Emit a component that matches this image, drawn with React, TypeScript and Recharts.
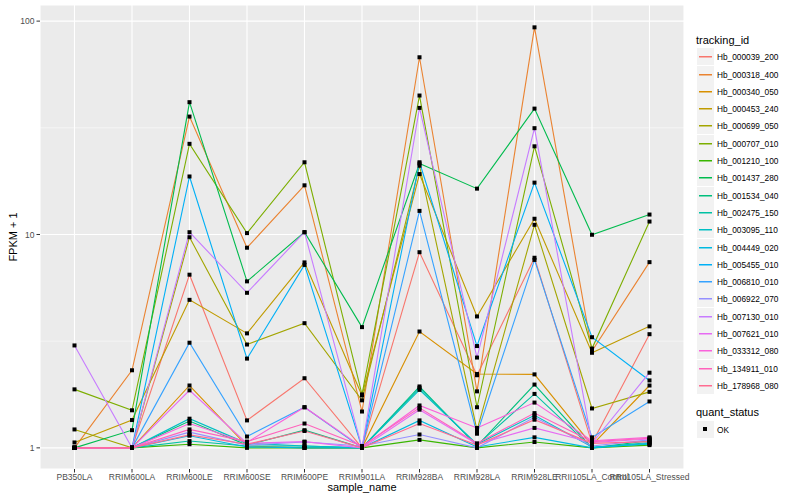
import React from 'react';
import { LineChart, Line, XAxis, YAxis, CartesianGrid } from 'recharts';

const categories = [
  'PB350LA', 'RRIM600LA', 'RRIM600LE', 'RRIM600SE', 'RRIM600PE', 'RRIM901LA',
  'RRIM928BA', 'RRIM928LA', 'RRIM928LE', 'RRII105LA_Control', 'RRII105LA_Stressed',
];

const trackingIds = [
  'Hb_000039_200', 'Hb_000318_400', 'Hb_000340_050', 'Hb_000453_240', 'Hb_000699_050',
  'Hb_000707_010', 'Hb_001210_100', 'Hb_001437_280', 'Hb_001534_040', 'Hb_002475_150',
  'Hb_003095_110', 'Hb_004449_020', 'Hb_005455_010', 'Hb_006810_010', 'Hb_006922_070',
  'Hb_007130_010', 'Hb_007621_010', 'Hb_033312_080', 'Hb_134911_010', 'Hb_178968_080',
];

// ggplot hue palette, 20 levels
const COLORS = [
  '#F8766D', '#EA8331', '#D89000', '#C09B00', '#A3A500', '#7CAE00', '#39B600', '#00BB4E',
  '#00BF7D', '#00C1A3', '#00BFC4', '#00BAE0', '#00B0F6', '#35A2FF', '#9590FF', '#C77CFF',
  '#E76BF3', '#FA62DB', '#FF62BC', '#FF6C91',
];

// FPKM + 1 per sample
const hb000039 = [1.0, 1.0, 6.48, 1.345, 2.12, 1.0, 8.26, 2.19, 7.78, 1.05, 3.41];
const hb000318 = [1.0, 2.31, 35.7, 8.67, 17.0, 1.48, 67.7, 1.84, 93.5, 2.84, 7.42];
const hb000340 = [1.0, 1.0, 1.96, 1.02, 1.0, 1.0, 3.51, 2.22, 2.21, 1.03, 1.96];
const hb000453 = [1.06, 1.35, 4.94, 3.44, 7.4, 1.76, 19.2, 4.13, 11.85, 2.79, 3.71];
const hb000699 = [1.22, 1.0, 9.71, 3.05, 3.84, 1.67, 21.0, 1.21, 11.1, 1.53, 1.83];
const hb000707 = [1.88, 1.5, 26.6, 10.15, 21.8, 1.78, 44.8, 1.55, 25.9, 2.92, 11.5];
const hb001210 = [1.0, 1.0, 1.04, 1.0, 1.0, 1.0, 1.09, 1.0, 1.065, 1.0, 1.03];
const hb001437 = [1.0, 1.21, 41.7, 6.03, 10.25, 3.68, 21.5, 16.4, 38.9, 9.97, 12.4];
const hb001534 = [1.0, 1.0, 1.335, 1.03, 1.21, 1.0, 1.94, 1.02, 1.98, 1.0, 1.08];
const hb002475 = [1.0, 1.0, 1.076, 1.02, 1.02, 1.0, 1.91, 1.03, 1.79, 1.0, 1.06];
const hb003095 = [1.0, 1.0, 1.37, 1.05, 1.02, 1.0, 1.87, 1.04, 1.42, 1.01, 1.04];
const hb004449 = [1.0, 1.0, 1.14, 1.01, 1.0, 1.0, 1.345, 1.01, 1.12, 1.0, 1.05];
const hb005455 = [1.0, 1.0, 18.7, 2.62, 7.2, 1.0, 21.8, 3.0, 17.5, 3.3, 2.07];
const hb006810 = [1.0, 1.0, 3.11, 1.13, 1.55, 1.0, 12.9, 1.165, 7.6, 1.12, 1.65];
const hb006922 = [1.0, 1.0, 1.185, 1.03, 1.065, 1.02, 1.155, 1.0, 1.39, 1.02, 1.09];
const hb007130 = [3.02, 1.0, 10.25, 5.33, 10.25, 1.0, 39.2, 2.65, 31.5, 1.05, 2.25];
const hb007621 = [1.0, 1.0, 1.86, 1.05, 1.07, 1.0, 1.51, 1.04, 1.24, 1.06, 1.1];
const hb033312 = [1.0, 1.0, 1.3, 1.06, 1.55, 1.01, 1.58, 1.24, 1.63, 1.08, 1.12];
const hb134911 = [1.0, 1.0, 1.22, 1.07, 1.3, 1.02, 1.54, 1.05, 1.455, 1.07, 1.11];
const hb178968 = [1.0, 1.0, 1.15, 1.04, 1.2, 1.0, 1.3, 1.03, 1.355, 1.05, 1.07];

const seriesValues = [
  hb000039, hb000318, hb000340, hb000453, hb000699, hb000707, hb001210, hb001437, hb001534, hb002475,
  hb003095, hb004449, hb005455, hb006810, hb006922, hb007130, hb007621, hb033312, hb134911, hb178968,
];

const yTicks = [1, 10, 100];
const yMinorTicks = [3.1623, 31.623];

const data = categories.map((sample, i) => {
  const row: Record<string, any> = { x: i + 1, sample };
  trackingIds.forEach((id, k) => {
    row[id] = seriesValues[k][i];
  });
  return row;
});

const FONT = '"Liberation Sans", Arial, sans-serif';

const SquareDot: React.FC<any> = ({ cx, cy }) => {
  if (cx == null || cy == null) return null;
  return <rect x={cx - 2} y={cy - 2} width={4} height={4} fill="#000" />;
};

// legend rows are placed on whole pixels so the key lines stay crisp
const LegendKey: React.FC<{ top: number; label: string; children: React.ReactNode }> = ({ top, label, children }) => (
  <div style={{ position: 'absolute', left: 697, top, height: 17, display: 'flex', alignItems: 'center' }}>
    <svg width={17} height={17} style={{ display: 'block' }}>
      <rect x={0} y={0} width={17} height={17} fill="#F2F2F2" />
      {children}
    </svg>
    <span style={{ fontSize: 8.3, marginLeft: 3, whiteSpace: 'nowrap', fontFamily: FONT, color: '#000' }}>{label}</span>
  </div>
);

const LegendPanel = () => (
  <>
    <div style={{ position: 'absolute', left: 696, top: 33, fontFamily: FONT, fontSize: 11, lineHeight: '14px', color: '#000' }}>
      tracking_id
    </div>
    {trackingIds.map((id, i) => (
      <LegendKey key={id} top={Math.round(48.2 + 17.3 * i)} label={id}>
        <rect x={2} y={8} width={13} height={1.5} fill={COLORS[i]} />
      </LegendKey>
    ))}
    <div style={{ position: 'absolute', left: 696, top: 405, fontFamily: FONT, fontSize: 11, lineHeight: '14px', color: '#000' }}>
      quant_status
    </div>
    <LegendKey top={421} label="OK">
      <rect x={6} y={6} width={4} height={4} fill="#000" />
    </LegendKey>
  </>
);

const App: React.FC = () => {
  const tickStyle = { fontSize: 8.5, fill: '#4D4D4D', fontFamily: FONT };
  return (
    <div style={{ position: 'absolute', left: 0, top: 0, width: 800, height: 500, background: '#fff' }}>
      <LineChart width={800} height={500} data={data} margin={{ top: 5, right: 116, bottom: 1, left: 0 }}>
        <CartesianGrid fill="#EBEBEB" stroke="#fff" strokeWidth={1.1} />
        <CartesianGrid
          stroke="#fff"
          strokeWidth={0.5}
          vertical={false}
          horizontalValues={yMinorTicks}
        />
        <XAxis
          dataKey="x"
          type="number"
          domain={[0.4, 11.6]}
          ticks={categories.map((_, i) => i + 1)}
          tickFormatter={(v: number) => categories[v - 1]}
          interval={0}
          height={30}
          axisLine={false}
          tickSize={3.5}
          tickMargin={1}
          tickLine={{ stroke: '#333333' }}
          tick={tickStyle}
        />
        <YAxis
          type="number"
          scale="log"
          domain={[0.796, 119]}
          allowDataOverflow
          ticks={yTicks}
          width={40}
          axisLine={false}
          tickSize={3.5}
          tickMargin={2}
          tickLine={{ stroke: '#333333' }}
          tick={tickStyle}
        />
        {trackingIds.map((id, k) => (
          <Line
            key={id}
            dataKey={id}
            type="linear"
            stroke={COLORS[k]}
            strokeWidth={1.1}
            dot={false}
            activeDot={false}
            isAnimationActive={false}
          />
        ))}
        {trackingIds.map((id) => (
          <Line
            key={`pt-${id}`}
            dataKey={id}
            type="linear"
            stroke="none"
            dot={<SquareDot />}
            activeDot={false}
            legendType="none"
            isAnimationActive={false}
          />
        ))}
      </LineChart>
      <div
        style={{
          position: 'absolute', left: 362, top: 481, width: 0, display: 'flex', justifyContent: 'center',
          fontFamily: FONT, fontSize: 11, color: '#000', whiteSpace: 'nowrap',
        }}
      >
        sample_name
      </div>
      <div
        style={{
          position: 'absolute', left: 13, top: 237, width: 0, height: 0, display: 'flex',
          justifyContent: 'center', alignItems: 'center',
          fontFamily: FONT, fontSize: 11, color: '#000', whiteSpace: 'nowrap',
          transform: 'rotate(-90deg)',
        }}
      >
        FPKM + 1
      </div>
      <LegendPanel />
    </div>
  );
};

export default App;
